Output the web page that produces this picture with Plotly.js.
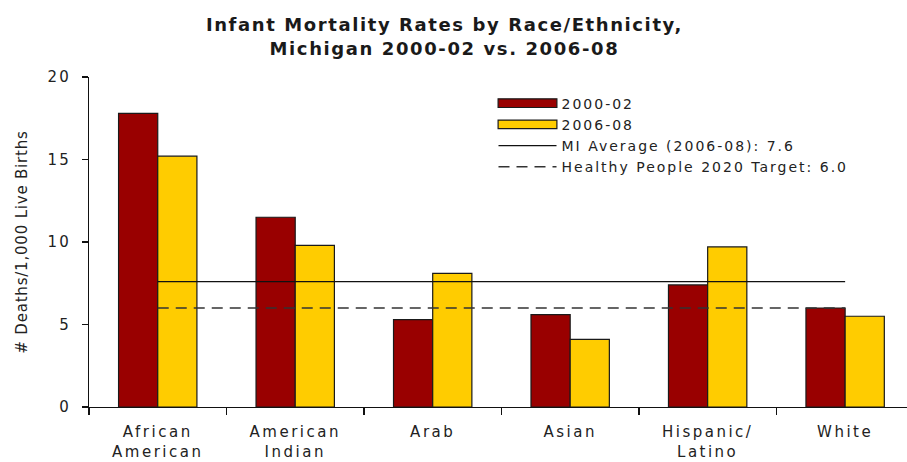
<!DOCTYPE html>
<html>
<head>
<meta charset="utf-8">
<script src="https://cdn.plot.ly/plotly-3.0.1.min.js"></script>
<style>
html,body{margin:0;padding:0;background:#fff;}
#chart{width:907px;height:462px;}
#chart .xtick text{letter-spacing:2.5px;}
#chart .ytick text{letter-spacing:2px;}
#chart .ytitle{letter-spacing:0.8px;}
#chart .legendtext{letter-spacing:2px;}
#chart .gtitle{letter-spacing:1.6px;}
#chart .legend .scrollbox{clip-path:none !important;}
#chart .legend .traces:nth-child(1) .legendpoints path,
#chart .legend .traces:nth-child(2) .legendpoints path{transform:translate(34px,0) scale(4.9,0.72);vector-effect:non-scaling-stroke;}
</style>
</head>
<body>
<div id="chart"></div>
<script>
const categories = ["African<br>American", "American<br>Indian", "Arab", "Asian", "Hispanic/<br>Latino", "White"];
const rates2000_02 = [17.8, 11.5, 5.3, 5.6, 7.4, 6.0];
const rates2006_08 = [15.2, 9.8, 8.1, 4.1, 9.7, 5.5];
const miAverage = 7.6;
const hpTarget = 6.0;
const seriesNames = ["2000-02", "2006-08", "MI Average (2006-08): 7.6", "Healthy People 2020 Target: 6.0"];

const lineX = [categories[0], categories[categories.length - 1]];

const traces = [
  {type: "bar", name: seriesNames[0], x: categories, y: rates2000_02,
   marker: {color: "#990000", line: {color: "#1a1a1a", width: 1.2}}},
  {type: "bar", name: seriesNames[1], x: categories, y: rates2006_08,
   marker: {color: "#FFCC00", line: {color: "#1a1a1a", width: 1.2}}},
  {type: "scatter", mode: "lines", name: seriesNames[2], x: lineX, y: [miAverage, miAverage],
   line: {color: "#111", width: 1.3}},
  {type: "scatter", mode: "lines", name: seriesNames[3], x: lineX, y: [hpTarget, hpTarget],
   line: {color: "#333", width: 1.7, dash: "11px,7px"}}
];

const FONT = "DejaVu Sans, Liberation Sans, Arial, sans-serif";

const layout = {
  width: 907, height: 462,
  margin: {l: 89, r: 0, t: 77, b: 55},
  paper_bgcolor: "#fff", plot_bgcolor: "#fff",
  font: {family: FONT, size: 14, color: "#222"},
  title: {text: "<b>Infant Mortality Rates by Race/Ethnicity,<br>Michigan 2000-02 vs. 2006-08</b>",
          font: {family: FONT, size: 18, color: "#1a1a1a"}, x: 0.49, xref: "container", xanchor: "center",
          y: 0.932, yref: "container", yanchor: "top"},
  barmode: "group", bargap: 0.43, bargroupgap: 0,
  showlegend: true,
  legend: {x: 0.4945, y: 0.968, xanchor: "left", yanchor: "top", bgcolor: "rgba(0,0,0,0)",
           font: {family: FONT, size: 14, color: "#222"}, tracegroupgap: 0, itemwidth: 58},
  xaxis: {type: "category", range: [-0.5, 5.45], showline: true, linecolor: "#111", linewidth: 1.3,
          ticks: "outside", tickson: "boundaries", ticklen: 7, tickcolor: "#111", tickwidth: 1.3,
          ticklabelstandoff: 11,
          showgrid: false, zeroline: false, tickfont: {family: FONT, size: 15, color: "#222"}, fixedrange: true},
  yaxis: {range: [0, 20], tickvals: [0, 5, 10, 15, 20], showline: true, linecolor: "#111", linewidth: 1.3,
          ticks: "outside", ticklen: 6, tickcolor: "#111", tickwidth: 1.3, showgrid: false, zeroline: false,
          ticklabelstandoff: 8,
          tickfont: {family: FONT, size: 15, color: "#222"},
          title: {text: "# Deaths/1,000 Live Births", font: {family: FONT, size: 15, color: "#222"}, standoff: 20}}
};

Plotly.newPlot("chart", traces, layout, {displayModeBar: false, staticPlot: true});
</script>
</body>
</html>
